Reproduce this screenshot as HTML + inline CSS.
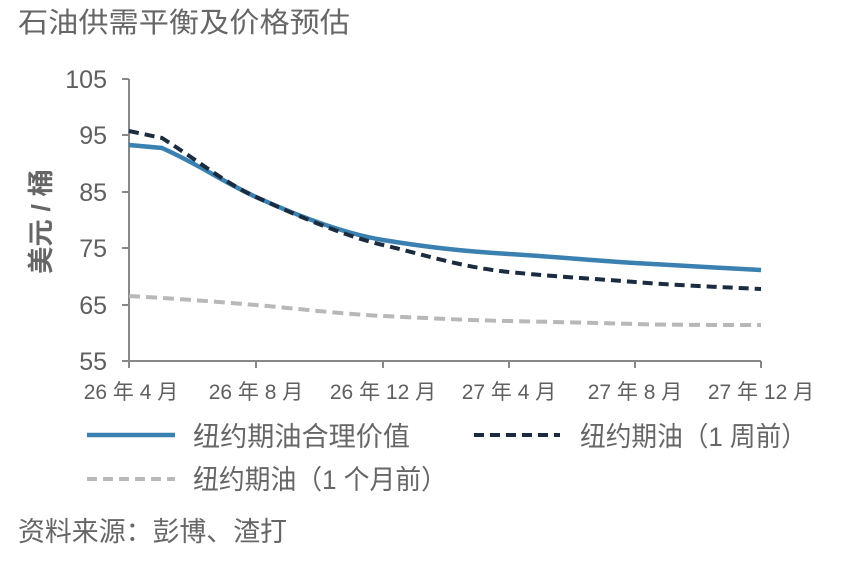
<!DOCTYPE html>
<html><head><meta charset="utf-8"><style>
body{margin:0;background:#fff;width:844px;height:570px;overflow:hidden}
svg{display:block}
text{font-family:"Liberation Sans","Noto Sans CJK SC",sans-serif}
</style></head><body>
<svg width="844" height="570" viewBox="0 0 844 570">
<text x="18" y="32" font-size="28" fill="#666" textLength="332" lengthAdjust="spacingAndGlyphs">石油供需平衡及价格预估</text>
<g fill="#5f5f5f" font-size="25" text-anchor="end">
<text x="107" y="88">105</text>
<text x="107" y="144">95</text>
<text x="107" y="201">85</text>
<text x="107" y="257">75</text>
<text x="107" y="314">65</text>
<text x="107" y="370">55</text>
</g>
<text transform="translate(50,222) rotate(-90)" x="-52" font-size="26" fill="#666" font-weight="bold" textLength="105" lengthAdjust="spacingAndGlyphs">美元 / 桶</text>
<g stroke="#888" stroke-width="2" fill="none">
<path d="M129 79V361H761"/>
<path d="M122 79H129M122 135H129M122 192H129M122 248H129M122 305H129M122 361H129"/>
<path d="M256 361V368M383 361V368M509 361V368M635 361V368M761 361V368M129 361V368"/>
</g>
<g fill="#5f5f5f" font-size="21" text-anchor="middle">
<text x="131" y="399">26 年 4 月</text>
<text x="256" y="399">26 年 8 月</text>
<text x="383" y="399">26 年 12 月</text>
<text x="509" y="399">27 年 4 月</text>
<text x="635" y="399">27 年 8 月</text>
<text x="761" y="399">27 年 12 月</text>
</g>
<path d="M129 296 C200 300,230 303,256 305 S340 314,383 316 S460 320,509 321 S600 323,635 324 S720 325,761 325" fill="none" stroke="#b8b8bb" stroke-width="4" stroke-dasharray="11,6"/>
<path d="M129 145 L162 148 C200 165,225 183,256 197 S340 233,383 240 S460 251,509 254 S600 261,635 263 S720 268,761 270" fill="none" stroke="#3a80b0" stroke-width="4.5"/>
<path d="M129 131 L162 138 C200 162,225 183,256 197 S340 235,383 245 S460 267,509 272 S600 279,635 282 S720 287,761 289" fill="none" stroke="#1b2b40" stroke-width="4" stroke-dasharray="10,6"/>
<line x1="87" y1="435" x2="175" y2="435" stroke="#3a80b0" stroke-width="4.5"/>
<text x="193" y="446" font-size="27" fill="#666" textLength="217" lengthAdjust="spacingAndGlyphs">纽约期油合理价值</text>
<line x1="474" y1="435" x2="560" y2="435" stroke="#1b2b40" stroke-width="4" stroke-dasharray="10,6"/>
<text x="580" y="446" font-size="27" fill="#666" textLength="227" lengthAdjust="spacingAndGlyphs">纽约期油（1 周前）</text>
<line x1="87" y1="479" x2="175" y2="479" stroke="#b8b8bb" stroke-width="4" stroke-dasharray="10,6"/>
<text x="193" y="489" font-size="27" fill="#666" textLength="254" lengthAdjust="spacingAndGlyphs">纽约期油（1 个月前）</text>
<text x="18" y="541" font-size="27" fill="#666" textLength="269" lengthAdjust="spacingAndGlyphs">资料来源：彭博、渣打</text>
</svg>
</body></html>
